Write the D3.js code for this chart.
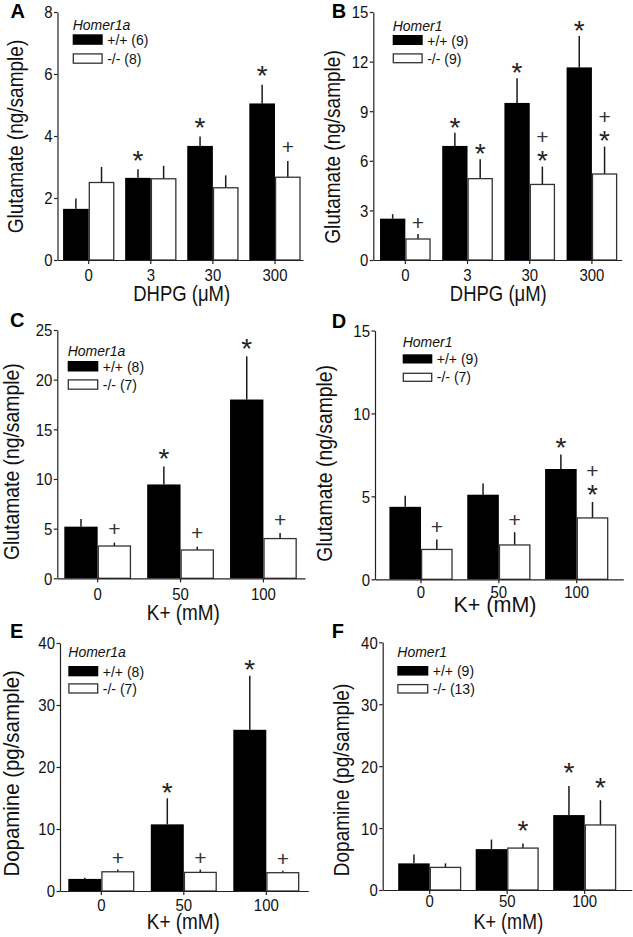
<!DOCTYPE html>
<html><head><meta charset="utf-8">
<script src="https://cdn.jsdelivr.net/npm/d3@7"></script>
<style>body{margin:0;background:#fff}svg{display:block}</style>
</head><body>
<svg id="chart" width="633" height="937"></svg>
<script>
// ---------- DATA ----------
const catsDHPG = ["0", "3", "30", "300"];
const catsK = ["0", "50", "100"];

// Panel A: Glutamate, DHPG, Homer1a
const aGene = "Homer1a";
const aLegend = ["+/+ (6)", "-/- (8)"];
const aTicks = [0, 2, 4, 6, 8];
const aWT = [1.65, 2.65, 3.68, 5.05];
const aWTErr = [0.33, 0.28, 0.30, 0.60];
const aKO = [2.50, 2.62, 2.33, 2.67];
const aKOErr = [0.50, 0.42, 0.40, 0.52];
const aWTSig = ["", "*", "*", "*"];
const aKOSig = ["", "", "", "+"];

// Panel B: Glutamate, DHPG, Homer1
const bGene = "Homer1";
const bLegend = ["+/+ (9)", "-/- (9)"];
const bTicks = [0, 3, 6, 9, 12, 15];
const bWT = [2.50, 6.90, 9.50, 11.65];
const bWTErr = [0.27, 0.80, 1.50, 1.90];
const bKO = [1.27, 4.92, 4.57, 5.20];
const bKOErr = [0.30, 1.17, 1.08, 1.66];
const bWTSig = ["", "*", "*", "*"];
const bKOSig = ["+", "*", "+*", "+*"];

// Panel C: Glutamate, K+, Homer1a
const cGene = "Homer1a";
const cLegend = ["+/+ (8)", "-/- (7)"];
const cTicks = [0, 5, 10, 15, 20, 25];
const cWT = [5.20, 9.45, 18.0];
const cWTErr = [0.77, 1.80, 4.35];
const cKO = [3.25, 2.85, 4.00];
const cKOErr = [0.34, 0.33, 0.55];
const cWTSig = ["", "*", "*"];
const cKOSig = ["+", "+", "+"];

// Panel D: Glutamate, K+, Homer1
const dGene = "Homer1";
const dLegend = ["+/+ (9)", "-/- (7)"];
const dTicks = [0, 5, 10, 15];
const dWT = [4.37, 5.10, 6.65];
const dWTErr = [0.67, 0.67, 0.88];
const dKO = [1.80, 2.07, 3.70];
const dKOErr = [0.60, 0.77, 0.96];
const dWTSig = ["", "", "*"];
const dKOSig = ["+", "+", "+*"];

// Panel E: Dopamine, K+, Homer1a
const eGene = "Homer1a";
const eLegend = ["+/+ (8)", "-/- (7)"];
const eTicks = [0, 10, 20, 30, 40];
const eWT = [1.95, 10.75, 26.0];
const eWTErr = [0.20, 4.20, 8.70];
const eKO = [3.10, 3.00, 2.95];
const eKOErr = [0.35, 0.45, 0.30];
const eWTSig = ["", "*", "*"];
const eKOSig = ["+", "+", "+"];

// Panel F: Dopamine, K+, Homer1
const fGene = "Homer1";
const fLegend = ["+/+ (9)", "-/- (13)"];
const fTicks = [0, 10, 20, 30, 40];
const fWT = [4.30, 6.60, 12.1];
const fWTErr = [1.45, 1.55, 4.70];
const fKO = [3.65, 6.77, 10.5];
const fKOErr = [0.65, 0.75, 4.00];
const fWTSig = ["", "", "*"];
const fKOSig = ["", "*", "*"];

const xTitleDHPG = "DHPG (\u03BCM)";
const xTitleK = "K+ (mM)";
const yTitleGlu = "Glutamate (ng/sample)";
const yTitleDA = "Dopamine (pg/sample)";

// ---------- LAYOUT ----------
const FONT = '"Liberation Sans", Arial, Helvetica, sans-serif';
const panels = [
  {label:"A", cats:catsDHPG, ticks:aTicks, wt:aWT, wtE:aWTErr, ko:aKO, koE:aKOErr, wtS:aWTSig, koS:aKOSig, gene:aGene, legend:aLegend,
   xTitle:xTitleDHPG, yTitle:yTitleGlu, lx:10.5, ly:18.3, xr:[57.5,303], pi:.174, po:.064, al:.7, yr:[260,12], tickY:280.5,
   xtX:181.7, xtY:300.5, xsx:.86, ytX:23, ytY:136.5, ysx:.885, leg:{x:72.7,t:30,r1:34.3,r2:53.3,w:30,h:10.5}, gap:15},
  {label:"B", cats:catsDHPG, ticks:bTicks, wt:bWT, wtE:bWTErr, ko:bKO, koE:bKOErr, wtS:bWTSig, koS:bKOSig, gene:bGene, legend:bLegend,
   xTitle:xTitleDHPG, yTitle:yTitleGlu, lx:331.7, ly:18.3, xr:[373.3,621.7], pi:.186, po:.09, al:.6, yr:[260,12], tickY:280.5,
   xtX:498.3, xtY:301, xsx:.86, ytX:340.3, ytY:147, ysx:.885, leg:{x:392.7,t:30.7,r1:35,r2:53.3,w:30,h:10}, gap:11.5},
  {label:"C", cats:catsK, ticks:cTicks, wt:cWT, wtE:cWTErr, ko:cKO, koE:cKOErr, wtS:cWTSig, koS:cKOSig, gene:cGene, legend:cLegend,
   xTitle:xTitleK, yTitle:yTitleGlu, lx:10, ly:326.7, xr:[57.3,305], pi:.195, po:.092, al:.46, yr:[578.3,330], tickY:600,
   xtX:183.3, xtY:620, xsx:.88, ytX:18.5, ytY:461.7, ysx:.9, leg:{x:67.7,t:356,r1:361,r2:379.3,w:30.6,h:10.5}, gap:14},
  {label:"D", cats:catsK, ticks:dTicks, wt:dWT, wtE:dWTErr, ko:dKO, koE:dKOErr, wtS:dWTSig, koS:dKOSig, gene:dGene, legend:dLegend,
   xTitle:xTitleK, yTitle:yTitleGlu, lx:331.7, ly:328.3, xr:[375,623.3], pi:.188, po:.189, al:.49, yr:[579.3,330.5], tickY:598.3,
   xtX:495, xtY:611.7, xsx:1.0, ytX:332, ytY:463.3, ysx:.9, leg:{x:402.7,t:347.3,r1:354.3,r2:372.7,w:29.6,h:9.2}, gap:13},
  {label:"E", cats:catsK, ticks:eTicks, wt:eWT, wtE:eWTErr, ko:eKO, koE:eKOErr, wtS:eWTSig, koS:eKOSig, gene:eGene, legend:eLegend,
   xTitle:xTitleK, yTitle:yTitleDA, lx:10, ly:638.3, xr:[60,308.3], pi:.2, po:.105, al:.48, yr:[891,643], tickY:910.7,
   xtX:183.3, xtY:929.3, xsx:.88, ytX:18.5, ytY:773.3, ysx:.95, leg:{x:68.3,t:656.7,r1:666,r2:683.3,w:30,h:10.3}, gap:12},
  {label:"F", cats:catsK, ticks:fTicks, wt:fWT, wtE:fWTErr, ko:fKO, koE:fKOErr, wtS:fWTSig, koS:fKOSig, gene:fGene, legend:fLegend,
   xTitle:xTitleK, yTitle:yTitleDA, lx:331.7, ly:638.3, xr:[382.7,631.7], pi:.187, po:.2, al:.5, yr:[890,642.3], tickY:907.3,
   xtX:508.3, xtY:929.3, xsx:.84, ytX:348.6, ytY:780, ysx:.885, leg:{x:397.3,t:656.7,r1:666,r2:684,w:31,h:9.6}, gap:19}
];

const svg = d3.select("#chart");

function addText(g, str, x, y, o = {}) {
  const t = g.append("text").text(str)
    .attr("transform", `translate(${x},${y})` + (o.rot ? ` rotate(${o.rot})` : "") + ` scale(${o.sx || 1},1)`)
    .attr("font-family", FONT).attr("font-size", o.fs || 14)
    .attr("text-anchor", o.anchor || "start").attr("fill", o.fill || "#111");
  if (o.italic) t.attr("font-style", "italic");
  if (o.bold) t.attr("font-weight", "bold");
  return t;
}

panels.forEach(p => {
  const g = svg.append("g");
  const x = d3.scaleBand().domain(p.cats).range(p.xr)
    .paddingInner(p.pi).paddingOuter(p.po).align(p.al);
  const xs = d3.scaleBand().domain(["wt", "ko"]).range([0, x.bandwidth()]);
  const y = d3.scaleLinear().domain([0, d3.max(p.ticks)]).range(p.yr);

  const rows = [];
  p.cats.forEach((c, i) => {
    rows.push({c, k:"wt", v:p.wt[i], e:p.wtE[i], s:p.wtS[i]});
    rows.push({c, k:"ko", v:p.ko[i], e:p.koE[i], s:p.koS[i]});
  });

  // error bars (upward only)
  g.selectAll("line.err").data(rows).join("line")
    .attr("x1", d => x(d.c) + xs(d.k) + xs.bandwidth() / 2)
    .attr("x2", d => x(d.c) + xs(d.k) + xs.bandwidth() / 2)
    .attr("y1", d => y(d.v)).attr("y2", d => y(d.v + d.e))
    .attr("stroke", "#1a1a1a").attr("stroke-width", 1.5);

  // bars
  g.selectAll("rect.bar").data(rows).join("rect")
    .attr("x", d => x(d.c) + xs(d.k) + (d.k === "ko" ? 0.6 : 0))
    .attr("width", d => xs.bandwidth() - (d.k === "ko" ? 1.2 : 0))
    .attr("y", d => y(d.v)).attr("height", d => y(0) - y(d.v))
    .attr("fill", d => d.k === "wt" ? "#000" : "#fff")
    .attr("stroke", d => d.k === "wt" ? "#000" : "#333")
    .attr("stroke-width", d => d.k === "wt" ? 0 : 1.3);

  // significance marks
  rows.forEach(d => {
    if (!d.s) return;
    const cx = x(d.c) + xs(d.k) + xs.bandwidth() / 2;
    let cy = y(d.v + d.e) - p.gap;
    d.s.split("").reverse().forEach(ch => {
      if (ch === "*") addText(g, "*", cx, cy + 15.4, {fs:28, anchor:"middle", fill:"#222"});
      else addText(g, "+", cx, cy + 7.4, {fs:21, anchor:"middle", fill:"#333"});
      cy -= 18.4;
    });
  });

  // axes
  const xa = g.append("g").attr("transform", `translate(0,${y(0)})`)
    .call(d3.axisBottom(x).tickSize(4).tickSizeOuter(0));
  xa.selectAll("text").attr("y", null).attr("dy", null)
    .attr("transform", `translate(0,${p.tickY - y(0)}) scale(.88,1)`)
    .attr("font-family", FONT).attr("font-size", 17).attr("fill", "#111");
  const ya = g.append("g").attr("transform", `translate(${p.xr[0]},0)`)
    .call(d3.axisLeft(y).tickValues(p.ticks).tickFormat(d3.format("d")).tickSize(3.5).tickSizeOuter(0));
  ya.selectAll("text").attr("x", null).attr("dy", "0.35em")
    .attr("transform", "translate(-5,0) scale(.88,1)")
    .attr("font-family", FONT).attr("font-size", 17).attr("fill", "#111");
  [xa, ya].forEach(a => {
    a.select(".domain").attr("stroke", "#222").attr("stroke-width", 1.2);
    a.selectAll(".tick line").attr("stroke", "#222").attr("stroke-width", 1.2);
  });

  // titles
  addText(g, p.xTitle, p.xtX, p.xtY, {fs:21.5, sx:p.xsx, anchor:"middle"});
  addText(g, p.yTitle, p.ytX, p.ytY, {fs:21.5, sx:p.ysx, anchor:"middle", rot:-90});
  addText(g, p.label, p.lx, p.ly, {fs:20, bold:true, fill:"#000"});

  // legend
  const L = p.leg;
  addText(g, p.gene, L.x, L.t, {fs:14, italic:true});
  g.append("rect").attr("x", L.x).attr("y", L.r1).attr("width", L.w).attr("height", L.h).attr("fill", "#000");
  g.append("rect").attr("x", L.x + 0.6).attr("y", L.r2 + 0.6).attr("width", L.w - 1.2).attr("height", L.h - 1.2)
    .attr("fill", "#fff").attr("stroke", "#333").attr("stroke-width", 1.3);
  addText(g, p.legend[0], L.x + L.w + 4.5, L.r1 + L.h + 0.5, {fs:14});
  addText(g, p.legend[1], L.x + L.w + 4.5, L.r2 + L.h + 0.5, {fs:14});
});
</script>
</body></html>
